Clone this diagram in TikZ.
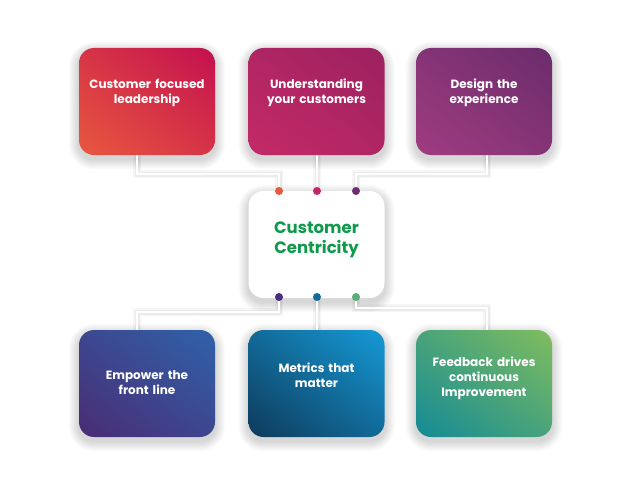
\documentclass[tikz,border=0pt]{standalone}
\usepackage{fontspec}
\setmainfont{Poppins}[UprightFont=* SemiBold, BoldFont=* Bold]
\usetikzlibrary{shadings,backgrounds,calc}
\definecolor{cA1}{HTML}{E8583E}\definecolor{cA2}{HTML}{C4104F}
\definecolor{cB1}{HTML}{C42A66}\definecolor{cB2}{HTML}{9C2160}
\definecolor{cC1}{HTML}{A03C80}\definecolor{cC2}{HTML}{6A2C6C}
\definecolor{cD1}{HTML}{4A2C74}\definecolor{cD2}{HTML}{2F62AA}
\definecolor{cE1}{HTML}{0E3A5A}\definecolor{cE2}{HTML}{159AD6}
\definecolor{cF1}{HTML}{138A96}\definecolor{cF2}{HTML}{80BD5E}
\definecolor{dA}{HTML}{E35A3C}\definecolor{dB}{HTML}{C2286A}\definecolor{dC}{HTML}{6E2D6E}
\definecolor{dD}{HTML}{4B2D80}\definecolor{dE}{HTML}{116A9A}\definecolor{dF}{HTML}{5AAE7A}
\definecolor{ctr}{HTML}{0E9A4A}
\tikzset{
  card/.style={rounded corners=15pt, minimum width=136pt, minimum height=107pt, inner sep=0pt},
  grad/.style 2 args={card, shade, lower left=#1, upper right=#2, upper left=#1!50!#2, lower right=#1!50!#2},
  lbl/.style={text=white, font=\bfseries\fontsize{12}{15}\selectfont, align=center, text width=134pt},
  wire/.style={draw=white, line width=2.5pt, preaction={draw=black, line width=8pt, opacity=0.035}, preaction={draw=black, line width=5pt, opacity=0.045}},
  dot/.style={circle, inner sep=0pt, minimum size=8pt},
  softshade/.style={fill=black, opacity=0.016},
}
\begin{document}
\begin{tikzpicture}[x=1pt,y=-1pt]
\useasboundingbox (0,0) rectangle (618,495);
% coordinates
\coordinate (ta) at (279,191); \coordinate (tb) at (317,191); \coordinate (tc) at (356,191);
\coordinate (ba) at (279,297); \coordinate (bb) at (317,297); \coordinate (bc) at (356,297);
% wires
\draw[wire] (137,155) |- (279,174) -- (ta);
\draw[wire] (317,155) -- (tb);
\draw[wire] (487,155) |- (356,174) -- (tc);
\draw[wire] (ba) -- (279,312) -| (137,330);
\draw[wire] (bb) -- (317,330);
\draw[wire] (bc) -- (356,308) -| (487,330);
% boxes
\node[grad={cA1}{cA2}] (b1) at (147,101.5) {};
\node[grad={cB1}{cB2}] (b2) at (316.5,101.5) {};
\node[grad={cC1}{cC2}] (b3) at (484,101.5) {};
\node[grad={cD1}{cD2}] (b4) at (147,383.5) {};
\node[grad={cE1}{cE2}] (b5) at (316.5,383.5) {};
\node[grad={cF1}{cF2}] (b6) at (484,383.5) {};
\node[card, fill=white] (c) at (316.5,244.5) {};
% soft shadows
\begin{scope}[on background layer]
\fill[white] (0,0) rectangle (618,495);
\foreach \n in {b1,b2,b3,b4,b5,b6,c}{
  \foreach \i in {1,...,10}{
    \fill[softshade, rounded corners=15pt+\i pt]
      ($(\n.south west)+(-\i,\i+4)$) rectangle ($(\n.north east)+(\i,-\i+4)$);
  }
}
\end{scope}
% labels
\node[lbl] (t1) at (147,92.5) {Customer focused\\leadership};
\node[lbl] (t2) at (316.5,92.5) {Understanding\\your customers};
\node[lbl] (t3) at (484,92.5) {Design the\\experience};
\node[lbl] (t4) at (147,382.5) {Empower the\\front line};
\node[lbl] (t5) at (316.5,375.5) {Metrics that\\matter};
\node[lbl] (t6) at (484,378) {Feedback drives\\continuous\\Improvement};
\node[text=ctr, font=\bfseries\fontsize{16.5}{20}\selectfont, align=center] (ct) at (316.5,240) {Customer\\Centricity};
% dots
\node[dot, fill=dA] at (ta) {}; \node[dot, fill=dB] at (tb) {}; \node[dot, fill=dC] at (tc) {};
\node[dot, fill=dD] at (ba) {}; \node[dot, fill=dE] at (bb) {}; \node[dot, fill=dF] at (bc) {};
\end{tikzpicture}
\end{document}
